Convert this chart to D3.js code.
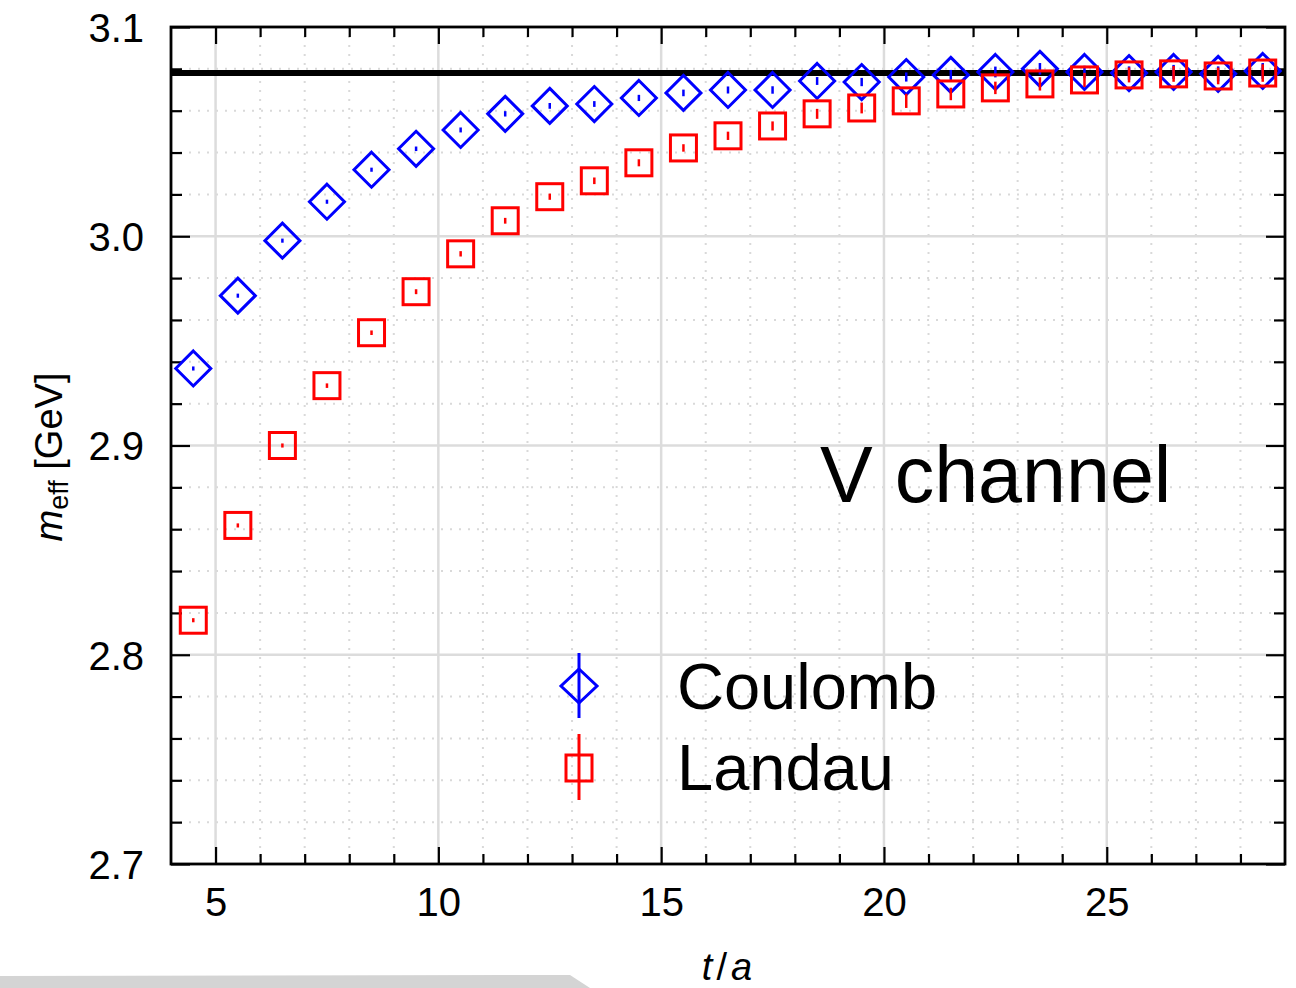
<!DOCTYPE html>
<html><head><meta charset="utf-8">
<script src="https://cdn.jsdelivr.net/npm/d3@7"></script>
<style>
html,body{margin:0;padding:0;background:#fff;}
svg{display:block;font-family:"Liberation Sans",Arial,Helvetica,sans-serif;}
</style></head>
<body><svg id="chart" width="1296" height="988"></svg>
<script>
// ---- data ----
const tValues = [4.5,5.5,6.5,7.5,8.5,9.5,10.5,11.5,12.5,13.5,14.5,15.5,16.5,17.5,18.5,19.5,20.5,21.5,22.5,23.5,24.5,25.5,26.5,27.5,28.5];
const coulomb = [2.9368,2.9716,2.9979,3.0165,3.0318,3.0418,3.0508,3.0585,3.0623,3.0632,3.0661,3.0685,3.0699,3.0699,3.0742,3.0737,3.0761,3.0771,3.0785,3.0800,3.0785,3.0780,3.0785,3.0776,3.0790];
const coulombErr = [0.0006,0.0006,0.0006,0.0006,0.0006,0.0007,0.0008,0.0009,0.0010,0.0010,0.0011,0.0012,0.0013,0.0014,0.0015,0.0016,0.0018,0.0020,0.0022,0.0024,0.0026,0.0028,0.0030,0.0032,0.0034];
const landau = [2.8165,2.8618,2.9000,2.9286,2.9539,2.9735,2.9916,3.0074,3.0189,3.0265,3.0351,3.0422,3.0480,3.0527,3.0585,3.0613,3.0647,3.0680,3.0709,3.0728,3.0747,3.0771,3.0776,3.0766,3.0780];
const landauErr = [0.0006,0.0006,0.0006,0.0007,0.0007,0.0008,0.0009,0.0010,0.0011,0.0012,0.0013,0.0014,0.0016,0.0018,0.0020,0.0022,0.0030,0.0026,0.0026,0.0028,0.0030,0.0032,0.0034,0.0036,0.0038];
const plateau = 3.078;
const xMajorTicks = [5,10,15,20,25];
const yMajorTicks = [2.7,2.8,2.9,3.0,3.1];
const xDomain = [4,29];
const yDomain = [2.7,3.1];
const seriesNames = ["Coulomb","Landau"];
const annotation = "V channel";

// ---- layout ----
const svg = d3.select("#chart");
const L=171, R=1285, T=27, B=864;
const x = d3.scaleLinear().domain(xDomain).range([L,R]);
const y = d3.scaleLinear().domain(yDomain).range([B,T]);
const xMinor = d3.range(4,30,1).filter(v=>v%5!==0 && v>xDomain[0] && v<xDomain[1]);
const yMinor = d3.range(0,21).map(i=>+(2.7+i*0.02).toFixed(2)).filter(v=>!yMajorTicks.some(m=>Math.abs(m-v)<1e-6));

const grid = svg.append("g");
// minor dotted grid
grid.selectAll(".gxm").data(xMinor).enter().append("line")
  .attr("x1",d=>x(d)).attr("x2",d=>x(d)).attr("y1",T).attr("y2",B)
  .attr("stroke","#d9d9d9").attr("stroke-width",2).attr("stroke-dasharray","2,7");
grid.selectAll(".gym").data(yMinor).enter().append("line")
  .attr("y1",d=>y(d)).attr("y2",d=>y(d)).attr("x1",L).attr("x2",R)
  .attr("stroke","#d9d9d9").attr("stroke-width",2).attr("stroke-dasharray","2,7");
// major solid grid
grid.selectAll(".gx").data(xMajorTicks).enter().append("line")
  .attr("x1",d=>x(d)).attr("x2",d=>x(d)).attr("y1",T).attr("y2",B)
  .attr("stroke","#dcdcdc").attr("stroke-width",2.5);
grid.selectAll(".gy").data(yMajorTicks.filter(v=>v>2.7&&v<3.1)).enter().append("line")
  .attr("y1",d=>y(d)).attr("y2",d=>y(d)).attr("x1",L).attr("x2",R)
  .attr("stroke","#dcdcdc").attr("stroke-width",2.5);

// axes (ticks pointing inward)
function styleAxis(g){ g.select(".domain").remove(); g.selectAll(".tick line").attr("stroke","#000").attr("stroke-width",2.2); }
const fs = 40;
svg.append("g").attr("transform",`translate(0,${B})`)
  .call(d3.axisBottom(x).tickValues(xMajorTicks).tickSize(-17).tickPadding(0).tickFormat(d3.format("d")))
  .call(styleAxis)
  .call(g=>g.selectAll("text").attr("font-size",fs).attr("fill","#000").attr("y",52).attr("dy",0).style("font-family","Liberation Sans, Arial, sans-serif"));
svg.append("g").attr("transform",`translate(0,${B})`)
  .call(d3.axisBottom(x).tickValues(xMinor).tickSize(-10).tickFormat(""))
  .call(styleAxis);
svg.append("g").attr("transform",`translate(0,${T})`)
  .call(d3.axisTop(x).tickValues(xMajorTicks).tickSize(-17).tickFormat(""))
  .call(styleAxis);
svg.append("g").attr("transform",`translate(0,${T})`)
  .call(d3.axisTop(x).tickValues(xMinor).tickSize(-10).tickFormat(""))
  .call(styleAxis);
svg.append("g").attr("transform",`translate(${L},0)`)
  .call(d3.axisLeft(y).tickValues(yMajorTicks).tickSize(-19).tickFormat(d3.format(".1f")))
  .call(styleAxis)
  .call(g=>g.selectAll("text").attr("font-size",fs).attr("fill","#000").attr("x",-27).attr("dy","0.36em").style("font-family","Liberation Sans, Arial, sans-serif"));
svg.append("g").attr("transform",`translate(${L},0)`)
  .call(d3.axisLeft(y).tickValues(yMinor).tickSize(-11).tickFormat(""))
  .call(styleAxis);
svg.append("g").attr("transform",`translate(${R},0)`)
  .call(d3.axisRight(y).tickValues(yMajorTicks).tickSize(-19).tickFormat(""))
  .call(styleAxis);
svg.append("g").attr("transform",`translate(${R},0)`)
  .call(d3.axisRight(y).tickValues(yMinor).tickSize(-11).tickFormat(""))
  .call(styleAxis);

// plateau line
svg.append("line").attr("x1",L).attr("x2",R).attr("y1",y(plateau)).attr("y2",y(plateau))
  .attr("stroke","#000").attr("stroke-width",6);

// data
const cData = tValues.map((t,i)=>({t,v:coulomb[i],e:coulombErr[i]}));
const lData = tValues.map((t,i)=>({t,v:landau[i],e:landauErr[i]}));
const dS = 17.5, sq = 13;
const cg = svg.append("g");
cg.selectAll("path").data(cData).enter().append("path")
  .attr("d",d=>{const cx=x(d.t), cy=y(d.v); return `M${cx},${cy-dS}L${cx+dS},${cy}L${cx},${cy+dS}L${cx-dS},${cy}Z`;})
  .attr("fill","none").attr("stroke","#0000ff").attr("stroke-width",3);
cg.selectAll("line").data(cData).enter().append("line")
  .attr("x1",d=>x(d.t)).attr("x2",d=>x(d.t)).attr("y1",d=>y(d.v+d.e)-0.8).attr("y2",d=>y(d.v-d.e)+0.8)
  .attr("stroke","#0000ff").attr("stroke-width",2.5);
const lg = svg.append("g");
lg.selectAll("rect").data(lData).enter().append("rect")
  .attr("x",d=>x(d.t)-sq).attr("y",d=>y(d.v)-sq).attr("width",2*sq).attr("height",2*sq)
  .attr("fill","none").attr("stroke","#ff0000").attr("stroke-width",3);
lg.selectAll("line").data(lData).enter().append("line")
  .attr("x1",d=>x(d.t)).attr("x2",d=>x(d.t)).attr("y1",d=>y(d.v+d.e)-0.8).attr("y2",d=>y(d.v-d.e)+0.8)
  .attr("stroke","#ff0000").attr("stroke-width",2.5);

// frame
svg.append("rect").attr("x",L).attr("y",T).attr("width",R-L).attr("height",B-T)
  .attr("fill","none").attr("stroke","#000").attr("stroke-width",2.8);

// legend
const lgd = svg.append("g");
const lx=579, ly1=686, ly2=768;
lgd.append("path").attr("d",`M${lx},${ly1-17}L${lx+18},${ly1}L${lx},${ly1+17}L${lx-18},${ly1}Z`)
  .attr("fill","none").attr("stroke","#0000ff").attr("stroke-width",3);
lgd.append("line").attr("x1",lx).attr("x2",lx).attr("y1",653).attr("y2",718).attr("stroke","#0000ff").attr("stroke-width",3);
lgd.append("rect").attr("x",lx-13).attr("y",ly2-13).attr("width",26).attr("height",26)
  .attr("fill","none").attr("stroke","#ff0000").attr("stroke-width",3);
lgd.append("line").attr("x1",lx).attr("x2",lx).attr("y1",734).attr("y2",800).attr("stroke","#ff0000").attr("stroke-width",3);
lgd.append("text").attr("x",677).attr("y",709).attr("font-size",65).text(seriesNames[0]);
lgd.append("text").attr("x",677).attr("y",790).attr("font-size",65).text(seriesNames[1]);

// annotation
svg.append("text").attr("x",820).attr("y",502).attr("font-size",79).text(annotation);

// axis labels
const xl = svg.append("text").attr("x",727).attr("y",980).attr("text-anchor","middle").attr("font-size",38).attr("font-style","italic");
xl.append("tspan").text("t");
xl.append("tspan").attr("font-style","normal").attr("dx",4).text("/");
xl.append("tspan").attr("dx",4).text("a");
const yl = svg.append("text").attr("transform","translate(62,457) rotate(-90)").attr("text-anchor","middle").attr("font-size",38);
yl.append("tspan").attr("font-style","italic").text("m");
yl.append("tspan").attr("font-size",27).attr("dy",6).text("eff");
yl.append("tspan").attr("dy",-6).text(" [GeV]");

// scan artifact strip at the bottom-left
svg.append("path").attr("d","M0,976 L570,975 L590,988 L0,988 Z").attr("fill","#d4d4d4");
</script></body></html>
